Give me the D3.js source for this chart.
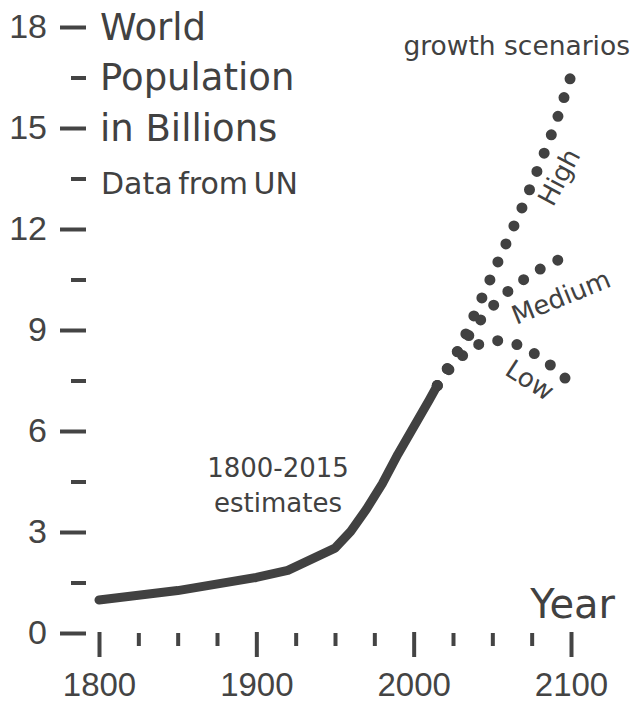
<!DOCTYPE html>
<html>
<head>
<meta charset="utf-8">
<script src="https://cdn.jsdelivr.net/npm/d3@7"></script>
<style>
  body { margin: 0; background: #fff; }
  svg { display: block; font-family: "DejaVu Sans", sans-serif; }
  .tick text { fill: #444; }
  .tick line { stroke: #444; stroke-width: 4; }
</style>
</head>
<body>
<div id="chart"></div>
<script>
// UN estimates, 1800-2015 (billions)
const estYears = [1800, 1850, 1900, 1920, 1950, 1960, 1970, 1980, 1990, 2000, 2010, 2015];
const estValues = [0.98, 1.26, 1.65, 1.86, 2.52, 3.02, 3.68, 4.43, 5.31, 6.12, 6.93, 7.35];

// growth scenarios, 2015-2100
const projYears = [2015, 2020, 2030, 2040, 2050, 2060, 2070, 2080, 2090, 2100];
const highValues = [7.35, 7.72, 8.55, 9.6, 10.65, 11.7, 12.75, 13.9, 15.1, 16.55];
const mediumValues = [7.35, 7.76, 8.5, 9.16, 9.7, 10.15, 10.5, 10.8, 11.05, 11.2];
const lowValues = [7.35, 7.7, 8.2, 8.55, 8.7, 8.65, 8.5, 8.2, 7.85, 7.4];

const yMajorTicks = [0, 3, 6, 9, 12, 15, 18];
const yMinorTicks = [1.5, 4.5, 7.5, 10.5, 13.5, 16.5];
const xMajorTicks = [1800, 1900, 2000, 2100];
const xMinorTicks = [1825, 1850, 1875, 1925, 1950, 1975, 2025, 2050, 2075];

const titleLines = ["World", "Population", "in Billions"];

const ink = "#414141";
const width = 634, height = 703;

const svg = d3.select("#chart")
  .append("svg")
  .attr("width", width)
  .attr("height", height);

svg.append("rect").attr("width", width).attr("height", height).attr("fill", "#fff");

const x = d3.scaleLinear().domain([1800, 2100]).range([99, 571]);
const y = d3.scaleLinear().domain([0, 18]).range([633, 27]);

// Y axis: long ticks with labels, short ticks between
const yAxisX = 86;
svg.append("g")
  .attr("transform", "translate(" + yAxisX + ",0)")
  .call(d3.axisLeft(y).tickValues(yMajorTicks).tickSize(26).tickPadding(13).tickFormat(d3.format("d")))
  .call(g => g.select(".domain").remove())
  .call(g => g.selectAll("text").style("font-size", "34px"));

svg.append("g")
  .attr("transform", "translate(" + yAxisX + ",0)")
  .call(d3.axisLeft(y).tickValues(yMinorTicks).tickSize(15).tickFormat(""))
  .call(g => g.select(".domain").remove());

// X axis
const xAxisY = 632;
svg.append("g")
  .attr("transform", "translate(0," + xAxisY + ")")
  .call(d3.axisBottom(x).tickValues(xMajorTicks).tickSize(25).tickPadding(16).tickFormat(d3.format("d")))
  .call(g => g.select(".domain").remove())
  .call(g => g.selectAll("text").style("font-size", "33px"));

svg.append("g")
  .attr("transform", "translate(0," + (xAxisY + 1) + ")")
  .call(d3.axisBottom(x).tickValues(xMinorTicks).tickSize(13).tickFormat(""))
  .call(g => g.select(".domain").remove());

// Lines
const estLine = d3.line()
  .x((d, i) => x(estYears[i]))
  .y(d => y(d));

const projLine = d3.line()
  .x((d, i) => x(projYears[i]))
  .y(d => y(d));

[lowValues, mediumValues, highValues].forEach(vals => {
  svg.append("path")
    .datum(vals)
    .attr("d", projLine)
    .attr("fill", "none")
    .attr("stroke", ink)
    .attr("stroke-width", 11)
    .attr("stroke-linecap", "round")
    .attr("stroke-dasharray", "0 19.7");
});

svg.append("path")
  .datum(estValues)
  .attr("d", estLine)
  .attr("fill", "none")
  .attr("stroke", ink)
  .attr("stroke-width", 9)
  .attr("stroke-linecap", "round")
  .attr("stroke-linejoin", "round");

// Title, set against the y ticks
titleLines.forEach((t, i) => {
  svg.append("text")
    .attr("x", x(1800) + 1)
    .attr("y", y(18 - i * 1.5))
    .attr("dy", "0.35em")
    .attr("fill", ink)
    .style("font-size", "37px")
    .text(t);
});

svg.append("text")
  .attr("x", x(1800) + 2)
  .attr("y", y(13.5) + 15)
  .attr("fill", ink)
  .style("font-size", "30px")
  .style("word-spacing", "-4px")
  .text("Data from UN");

// Annotations
svg.append("text")
  .attr("x", 630)
  .attr("y", 55)
  .attr("text-anchor", "end")
  .attr("fill", ink)
  .style("font-size", "26.5px")
  .text("growth scenarios");

svg.append("text")
  .attr("x", 278)
  .attr("y", 477)
  .attr("text-anchor", "middle")
  .attr("fill", ink)
  .style("font-size", "26px")
  .text("1800-2015");

svg.append("text")
  .attr("x", 278)
  .attr("y", 512)
  .attr("text-anchor", "middle")
  .attr("fill", ink)
  .style("font-size", "26px")
  .text("estimates");

svg.append("text")
  .attr("x", 615)
  .attr("y", 618)
  .attr("text-anchor", "end")
  .attr("fill", ink)
  .style("font-size", "40px")
  .text("Year");

const scenarioLabels = [
  { text: "High", cx: 559, cy: 177, angle: -62 },
  { text: "Medium", cx: 561, cy: 297, angle: -22 },
  { text: "Low", cx: 530, cy: 380, angle: 33 }
];

svg.selectAll(".scenario")
  .data(scenarioLabels)
  .enter()
  .append("text")
  .attr("class", "scenario")
  .attr("transform", d => "translate(" + d.cx + "," + d.cy + ") rotate(" + d.angle + ")")
  .attr("text-anchor", "middle")
  .attr("dy", "0.35em")
  .attr("fill", ink)
  .style("font-size", "26px")
  .text(d => d.text);
</script>
</body>
</html>
